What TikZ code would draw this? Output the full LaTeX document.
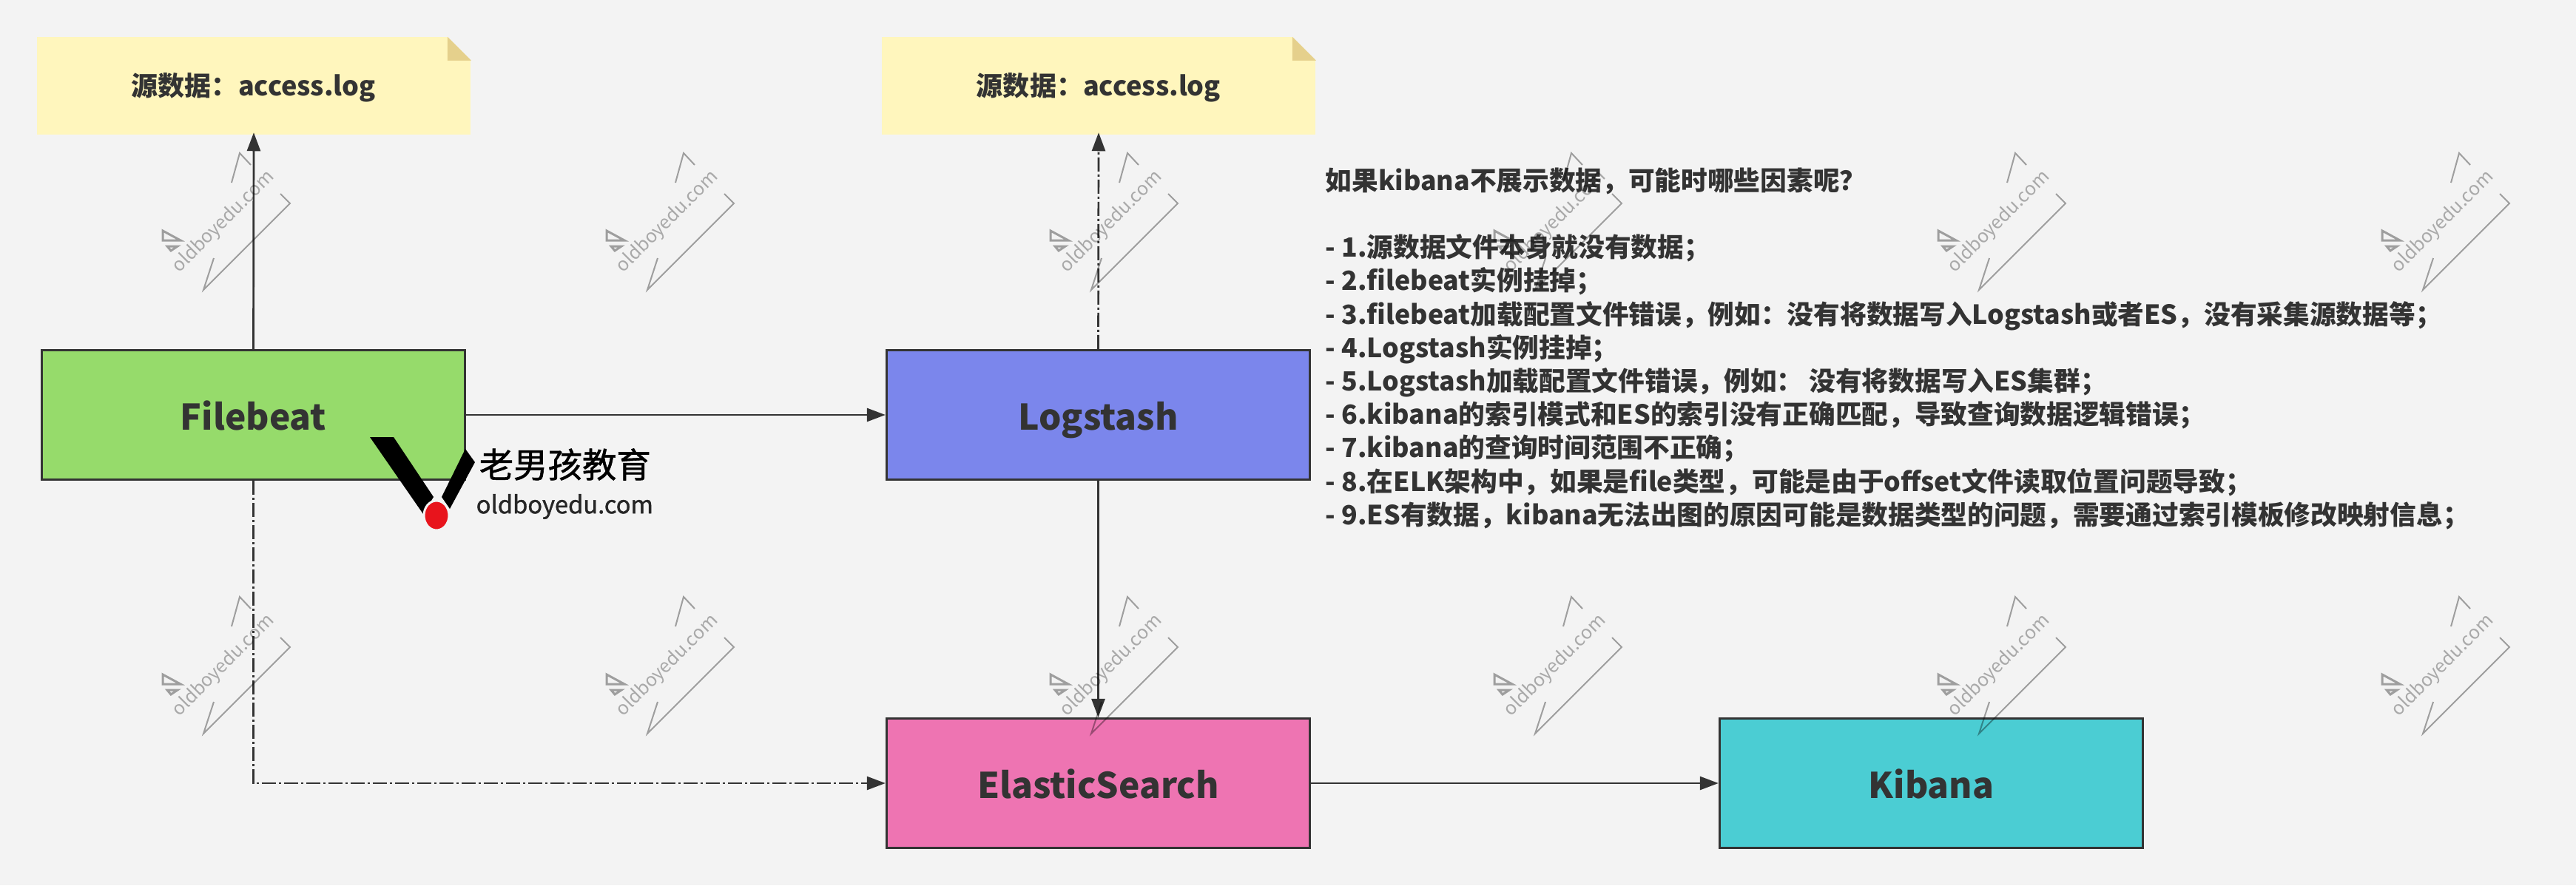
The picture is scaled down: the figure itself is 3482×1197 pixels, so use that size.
\documentclass[tikz,border=0pt]{standalone}
\usepackage{fontspec}
\setmainfont{Noto Sans CJK SC}
\newfontfamily\logofont[FakeBold=1.2]{Noto Sans CJK SC}
\usepackage{xcolor}
\usetikzlibrary{arrows.meta}

% full width punctuation
\newcommand{\zhcomma}{\char"FF0C\relax}
\newcommand{\zhcolon}{\char"FF1A\relax}
\newcommand{\zhsemi}{\char"FF1B\relax}
\newcommand{\zhquery}{\char"FF1F\relax}

\definecolor{bgpaper}{HTML}{F3F3F3}
\definecolor{inkgray}{HTML}{333333}
\definecolor{notefill}{HTML}{FFF6BD}
\definecolor{notefold}{HTML}{E5D08C}
\definecolor{filebeatgreen}{HTML}{96DB6B}
\definecolor{logstashblue}{HTML}{7B86EC}
\definecolor{elasticpink}{HTML}{EE74B2}
\definecolor{kibanateal}{HTML}{4BCDD3}
\definecolor{logored}{HTML}{E8141C}

\tikzset{
  block/.style={draw=inkgray, line width=0.03cm, minimum width=5.72cm, minimum height=1.75cm,
    inner sep=0pt, text=inkgray, text height=0.51cm, text depth=0.1cm,
    font=\bfseries\fontsize{13.6}{16}\selectfont},
  notebox/.style={fill=notefill, minimum width=5.86cm, minimum height=1.31cm,
    inner sep=0pt, text=inkgray, text height=0.336cm, text depth=0.07cm,
    font=\bfseries\fontsize{10.24}{12}\selectfont},
  flow/.style={draw=inkgray, line width=0.027cm, -{Triangle[length=0.25cm,width=0.18cm]}},
  flowdash/.style={flow, dash pattern=on 0.19cm off 0.04cm on 0.03cm off 0.04cm},
  watermark/.pic={
    \draw [black, opacity=0.35, line width=0.02cm] (93,40) -- (104,0) -- (119,16);
    \draw [black, opacity=0.35, line width=0.02cm] (159,55) -- (172,68) -- (55,185) -- (69,142);
    \draw [black, opacity=0.35, line width=0.03cm] (0,105) -- (24,118) -- (0,118) -- cycle;
    \draw [black, opacity=0.35, line width=0.03cm] (6,126) -- (20,126) -- (11,132) -- cycle;
    \node [black, opacity=0.3, rotate=45, inner sep=0pt, font=\fontsize{7.1}{8}\selectfont] at (82,93) {oldboyedu.com};
  }
}

\begin{document}
\begin{tikzpicture}[x=0.01cm, y=-0.01cm]

% Background
\fill [bgpaper] (0,0) rectangle (3482,1197);
\useasboundingbox (0,0) rectangle (3482,1197);

% Source notes
\node (noteA) [notebox] at (343,116) {源数据\zhcolon access.log};
\node (noteB) [notebox] at (1485,116) {源数据\zhcolon access.log};
\foreach \n in {noteA,noteB}{
  \fill [bgpaper] (\n.north east) -- ++(-32,0) -- ++(32,32) -- cycle;
  \fill [notefold] (\n.north east) ++(-32,0) -- ++(32,32) -- ++(-32,0) -- cycle;
}

% Pipeline
\node (filebeat) [block, fill=filebeatgreen] at (342.5,561) {Filebeat};
\node (logstash) [block, fill=logstashblue] at (1484.5,561) {Logstash};
\node (elastic) [block, fill=elasticpink] at (1484.5,1059) {ElasticSearch};
\node (kibana) [block, fill=kibanateal] at (2610.5,1059) {Kibana};

% Connectors
\draw [flow, shorten >=-0.03cm] (filebeat.north) -- (noteA.south);
\draw [flowdash, shorten >=-0.03cm] (logstash.north) -- (noteB.south);
\draw [flow] (filebeat.east) -- (logstash.west);
\draw [flow] (logstash.south) -- (elastic.north);
\draw [flow] (elastic.east) -- (kibana.west);
\draw [flowdash] (filebeat.south) |- (elastic.west);

% Causes
\node (causes) [anchor=north west, inner sep=0pt, align=left, text=inkgray,
  font=\bfseries\fontsize{10.15}{12.85}\selectfont] at (1791,226) {%
如果kibana不展示数据\zhcomma 可能时哪些因素呢\zhquery\\
\mbox{}\\
- 1.源数据文件本身就没有数据\zhsemi\\
- 2.filebeat实例挂掉\zhsemi\\
- 3.filebeat加载配置文件错误\zhcomma 例如\zhcolon 没有将数据写入Logstash或者ES\zhcomma 没有采集源数据等\zhsemi\\
- 4.Logstash实例挂掉\zhsemi\\
- 5.Logstash加载配置文件错误\zhcomma 例如\zhcolon\ 没有将数据写入ES集群\zhsemi\\
- 6.kibana的索引模式和ES的索引没有正确匹配\zhcomma 导致查询数据逻辑错误\zhsemi\\
- 7.kibana的查询时间范围不正确\zhsemi\\
- 8.在ELK架构中\zhcomma 如果是file类型\zhcomma 可能是由于offset文件读取位置问题导致\zhsemi\\
- 9.ES有数据\zhcomma kibana无法出图的原因可能是数据类型的问题\zhcomma 需要通过索引模板修改映射信息\zhsemi};

% Logo
\fill [black] (500,591) -- (532,591) -- (586,672) -- (572,695) -- cycle;
\fill [black] (629,607) -- (642,625) -- (608,688) -- (597,672) -- cycle;
\draw [fill=logored, draw=bgpaper, line width=0.03cm] (590,697) ellipse [x radius=17, y radius=20];
\node (logoCn) [anchor=west, inner sep=0pt, text=black, font=\logofont\fontsize{13.2}{16}\selectfont] at (647,628) {老男孩教育};
\node (logoEn) [anchor=west, inner sep=0pt, text=black!85, font=\logofont\fontsize{9.3}{12}\selectfont] at (643,685) {oldboyedu.com};

% Watermarks
\foreach \col in {220,820,1420,2020,2620,3220}{
  \foreach \row in {207,807}{
    \pic at (\col,\row) {watermark};
  }
}

\end{tikzpicture}
\end{document}
